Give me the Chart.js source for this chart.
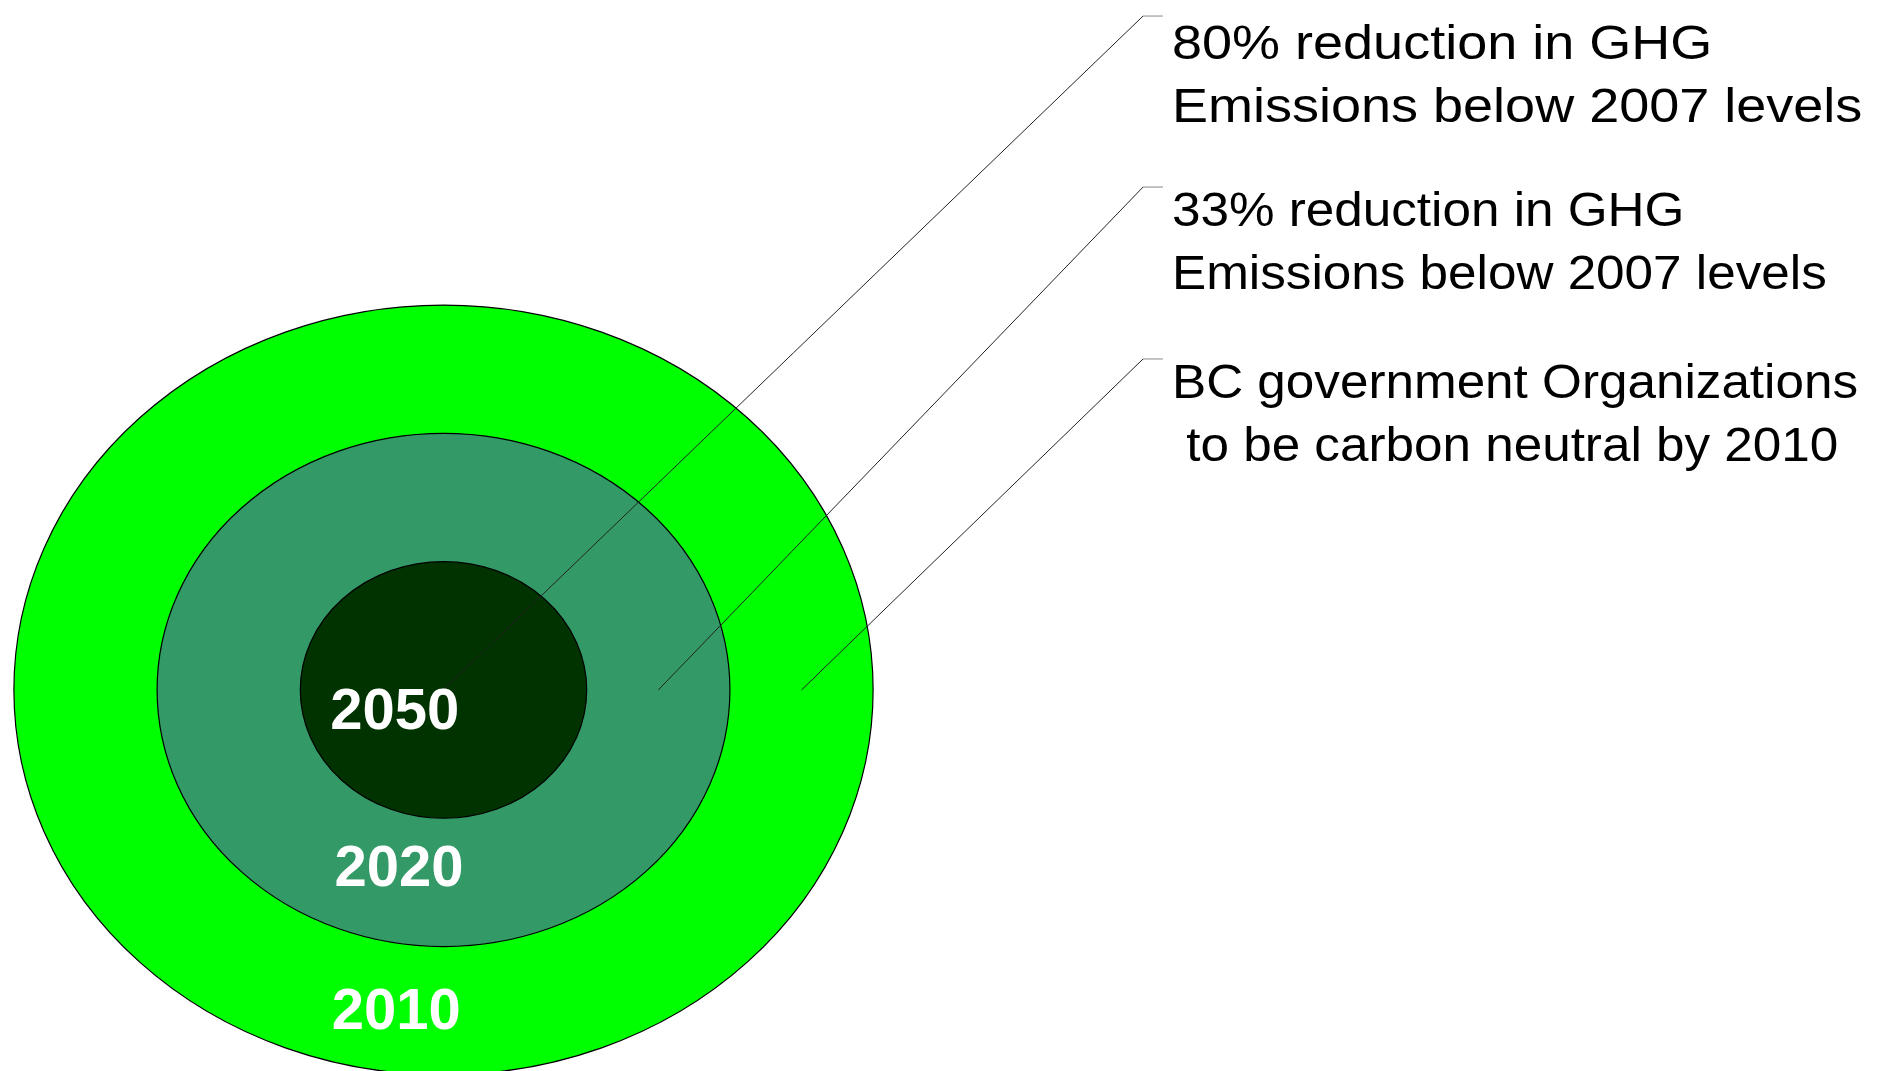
<!DOCTYPE html>
<html lang="en">
<head>
<meta charset="UTF-8">
<title>BC GHG reduction targets</title>
<script src="https://cdn.jsdelivr.net/npm/chart.js"></script>
<style>
  html, body { margin: 0; padding: 0; background: #fff; overflow: hidden; font-family: "Liberation Sans", Arial, sans-serif; }
  #wrap { position: relative; width: 1884px; height: 1071px; }
</style>
</head>
<body>
<div id="wrap"><canvas id="chart"></canvas></div>
<script>
// rings, outer to inner
const years = ['2010', '2020', '2050'];
const ringRadius = [3, 2, 1];
const targets = [
    ['BC government Organizations', ' to be carbon neutral by 2010'],
    ['33% reduction in GHG', 'Emissions below 2007 levels'],
    ['80% reduction in GHG', 'Emissions below 2007 levels']
];
// leader lines: start inside each ring, end at the text (ring units)
const anchorX = [2.5, 1.5, 0];
const calloutY = [2.58, 3.92, 5.253];

// layout (ring units unless noted)
const xRange = [-3.097, 10.059];
const yRange = [-2.97, 5.378];
const elbowX = 4.885, tickEndX = 5.024, textX = 5.087;
const labelPos = [[-0.33, -2.52], [-0.31, -1.40], [-0.34, -0.18]];
const textStretch = [1.067, 1.067, 1.125];
const textDrop = [39, 39, 43];
const ringColors = ['#00ff00', '#339966', '#003300'];
const FONT = '"Liberation Sans", Arial, sans-serif';

const rings = {
    id: 'rings',
    beforeDatasetsDraw(chart) {
        const { ctx, scales: { x, y } } = chart;
        const cx = x.getPixelForValue(0), cy = y.getPixelForValue(0);
        ringRadius.forEach((r, i) => {
            ctx.save();
            ctx.beginPath();
            ctx.ellipse(cx, cy, x.getPixelForValue(r) - cx, cy - y.getPixelForValue(r), 0, 0, Math.PI * 2);
            ctx.fillStyle = ringColors[i];
            ctx.fill();
            ctx.lineWidth = 1.2;
            ctx.strokeStyle = '#000';
            ctx.stroke();
            ctx.restore();
        });
    },
    afterDatasetsDraw(chart) {
        const { ctx, scales: { x, y } } = chart;
        ctx.save();
        // year labels
        ctx.fillStyle = '#fff';
        ctx.font = 'bold 58px ' + FONT;
        ctx.textAlign = 'center';
        ctx.textBaseline = 'middle';
        years.forEach((yr, i) => {
            ctx.fillText(yr, x.getPixelForValue(labelPos[i][0]), y.getPixelForValue(labelPos[i][1]));
        });
        // target texts (stretched a little, like the original)
        ctx.fillStyle = '#000';
        ctx.font = '48px ' + FONT;
        ctx.textAlign = 'left';
        ctx.textBaseline = 'alphabetic';
        const tx = x.getPixelForValue(textX);
        targets.forEach((lines, i) => {
            const ty = y.getPixelForValue(calloutY[i]);
            lines.forEach((line, j) => {
                ctx.save();
                ctx.translate(tx, ty + textDrop[i] + j * 63);
                ctx.scale(textStretch[i], 1);
                ctx.fillText(line, 0, 0);
                ctx.restore();
            });
        });
        ctx.restore();
    }
};

const leaders = targets.map((t, i) => ({
    data: [
        { x: anchorX[i], y: 0 },
        { x: elbowX, y: calloutY[i] },
        { x: tickEndX, y: calloutY[i] }
    ],
    showLine: true,
    borderWidth: 1,
    borderColor: '#222',
    pointRadius: 0,
    segment: { borderColor: c => c.p0DataIndex === 1 ? '#888' : '#222' }
}));

new Chart(document.getElementById('chart'), {
    type: 'scatter',
    data: { datasets: leaders },
    options: {
        responsive: true,
        maintainAspectRatio: false,
        animation: false,
        events: [],
        layout: { padding: 0 },
        scales: {
            x: { type: 'linear', min: xRange[0], max: xRange[1], display: false },
            y: { type: 'linear', min: yRange[0], max: yRange[1], display: false }
        },
        plugins: { legend: { display: false }, tooltip: { enabled: false } }
    },
    plugins: [rings]
});
</script>
</body>
</html>
